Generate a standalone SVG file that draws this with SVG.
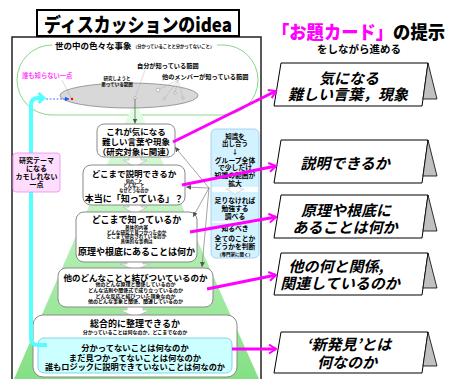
<svg xmlns="http://www.w3.org/2000/svg" width="449" height="379" viewBox="0 0 449 379">
<defs>
<style>
text{font-family:"Noto Sans CJK JP","Noto Sans CJK SC",sans-serif;font-weight:bold;fill:#000;dominant-baseline:central}
.c{text-anchor:middle}
.t{font-size:10px}
.box{fill:#fff;stroke:#8a8a8a;stroke-width:1}
.card{fill:#fff;stroke:#000;stroke-width:1}
.side{fill:#c0c0c0;stroke:#000;stroke-width:0.8}
.ct{font-size:15px;font-style:italic;text-anchor:middle}
.mag{stroke:#ff00ff;stroke-width:3;fill:none;marker-end:url(#mA)}
.gr{stroke:#666;stroke-width:0.6;fill:none;marker-end:url(#gA)}
.wa{fill:#fff;stroke:#bbb;stroke-width:0.8}
</style>
<linearGradient id="tri" x1="0" y1="100" x2="0" y2="379" gradientUnits="userSpaceOnUse">
<stop offset="0" stop-color="#e6ffe6"/>
<stop offset="1" stop-color="#84e084"/>
</linearGradient>
<marker id="mA" markerUnits="userSpaceOnUse" markerWidth="12" markerHeight="12" refX="10" refY="6" orient="auto">
<path d="M3,1.5 L10,6 L3,10.5" fill="none" stroke="#ff00ff" stroke-width="2"/>
</marker>
<marker id="gA" markerUnits="userSpaceOnUse" markerWidth="6" markerHeight="6" refX="5" refY="3" orient="auto">
<path d="M0,0.5 L5,3 L0,5.5 Z" fill="#555"/>
</marker>
<marker id="bA" markerUnits="userSpaceOnUse" markerWidth="6" markerHeight="6" refX="5" refY="3" orient="auto">
<path d="M0,0.5 L5,3 L0,5.5 Z" fill="#2255ff"/>
</marker>
</defs>

<!-- frame -->
<rect x="12" y="37" width="249" height="360" fill="#fff" stroke="#222" stroke-width="1.5"/>

<!-- title -->
<g id="title">
<rect x="37" y="10" width="202" height="26" fill="#fff" stroke="#000" stroke-width="2"/>
<text x="138" y="23.5" class="c" style="font-size:19px;font-weight:900" textLength="188" lengthAdjust="spacingAndGlyphs">ディスカッションのidea</text>
</g>

<!-- header right -->
<g id="header">
<text x="272" y="31" style="font-size:18.5px;font-weight:900" textLength="173" lengthAdjust="spacingAndGlyphs"><tspan style="fill:#ff00ff">「お題カード」</tspan>の提示</text>
<text x="359" y="48" class="c" style="font-size:10.5px">をしながら進める</text>
</g>

<!-- world of events -->
<g id="world">
<rect x="17" y="45" width="241" height="70" rx="35" ry="35" fill="none" stroke="#8ad88a" stroke-width="1"/>
<polygon points="135,100 14,379 259,379" fill="url(#tri)"/>
<rect x="52" y="40" width="165" height="10" fill="#fff"/>
<text x="55" y="45" style="font-size:8.5px">世の中の色々な事象</text>
<text transform="translate(133,46) scale(0.43)" class="t">（分かっていることと分かってないこと）</text>
<ellipse cx="129" cy="95.5" rx="69" ry="12.5" fill="#d8d8d8" stroke="#777" stroke-width="0.7"/>
<text x="22" y="75" style="font-size:6.3px;fill:#ff44ff">誰も知らない一点</text>
<line x1="62" y1="80" x2="71" y2="98" stroke="#999" stroke-width="0.4"/>
<circle cx="72" cy="99" r="1.2" fill="#ff0000"/>
<text transform="translate(117,78) scale(0.45)" class="t c">研究しようと</text>
<text transform="translate(117,83.5) scale(0.45)" class="t c">思っている範囲</text>
<text x="137" y="65" style="font-size:6.2px">自分が知っている範囲</text>
<text x="162" y="76" style="font-size:6.2px">他のメンバーが知っている範囲</text>
<g stroke="#aaa" stroke-width="0.4" fill="none">
<line x1="145" y1="70" x2="135" y2="98"/>
<line x1="178" y1="80" x2="158" y2="90"/>
<line x1="178" y1="80" x2="164" y2="99"/>
<line x1="178" y1="80" x2="175" y2="93"/>
<line x1="178" y1="80" x2="183" y2="98"/>
</g>
<g fill="#fff" stroke="#888" stroke-width="0.5">
<circle cx="135" cy="98" r="1.3"/>
<circle cx="158" cy="90" r="1.8"/>
<circle cx="164" cy="99" r="1.2"/>
<circle cx="175" cy="93" r="1.3"/>
<circle cx="183" cy="98" r="1.1"/>
</g>
</g>

<!-- white block arrows between steps -->
<g id="flow-arrows">
<polygon class="wa" points="129,155 141,155 141,160 147,160 135,167 123,160 129,160"/>
<polygon class="wa" points="129,203 141,203 141,207 147,207 135,214 123,207 129,207"/>
<polygon class="wa" points="127,260 143,260 143,264 150,264 135,270 120,264 127,264"/>
<polygon class="wa" points="127,305 143,305 143,310 150,310 135,317 120,310 127,310"/>
</g>

<!-- step boxes -->
<g id="step1">
<rect class="box" x="97" y="124" width="78" height="33" rx="7"/>
<text x="136" y="130.5" class="c" style="font-size:8.5px">これが気になる</text>
<text x="136" y="141" class="c" style="font-size:8.5px">難しい言葉や現象</text>
<text x="136" y="151" class="c" style="font-size:8.5px">（研究対象に関連）</text>
</g>
<g id="step2">
<rect class="box" x="83" y="165" width="102" height="40" rx="8"/>
<text x="134" y="172.5" class="c" style="font-size:8.5px">どこまで説明できるか</text>
<text transform="translate(134,180.5) scale(0.42)" class="t c">何のこと</text>
<text transform="translate(134,185) scale(0.42)" class="t c">どんなこと</text>
<text transform="translate(134,189.5) scale(0.42)" class="t c">なぜどうなのか</text>
<text x="134" y="198.5" class="c" style="font-size:9px">本当に「知っている」？</text>
</g>
<g id="step3">
<rect class="box" x="76" y="212" width="121" height="50" rx="8"/>
<text x="136.5" y="219" class="c" style="font-size:9px">どこまで知っているか</text>
<text transform="translate(136.5,227) scale(0.46)" class="t c">具体的内容</text>
<text transform="translate(136.5,231.7) scale(0.46)" class="t c">どんな研究で見つかったのか</text>
<text transform="translate(136.5,236.4) scale(0.46)" class="t c">どこまで研究されているのか</text>
<text transform="translate(136.5,241.1) scale(0.46)" class="t c">具体的な事例は</text>
<text x="136.5" y="251" class="c" style="font-size:9px">原理や根底にあることは何か</text>
</g>
<g id="step4">
<rect class="box" x="58" y="268" width="155" height="39" rx="8"/>
<text x="135.5" y="277" class="c" style="font-size:8.5px">他のどんなことと結びついているのか</text>
<text transform="translate(135.5,283.5) scale(0.5)" class="t c">他のどんな原理と関係しているのか</text>
<text transform="translate(135.5,289.3) scale(0.5)" class="t c">どんな法則や関係式で成り立っているのか</text>
<text transform="translate(135.5,295.1) scale(0.5)" class="t c">どんな反応と結びついた現象なのか</text>
<text transform="translate(135.5,300.9) scale(0.5)" class="t c">他のどんな事象と関係、関連しているのか</text>
</g>
<g id="step5">
<rect class="box" x="33" y="315" width="204" height="62" rx="10"/>
<text x="135" y="323" class="c" style="font-size:9px">総合的に整理できるか</text>
<text transform="translate(135,331) scale(0.5)" class="t c">分かっていることは何なのか、どこまでなのか</text>
</g>
<g id="unknown">
<rect x="38" y="338" width="194" height="35" rx="6" fill="#ccffff" stroke="#66ccdd" stroke-width="0.8"/>
<text x="135" y="347" class="c" style="font-size:8.3px">分かってないことは何なのか</text>
<text x="135" y="356.5" class="c" style="font-size:8.3px">まだ見つかってないことは何なのか</text>
<text x="135" y="366" class="c" style="font-size:8.2px">誰もロジックに説明できていないことは何なのか</text>
</g>

<!-- knowledge sharing column -->
<g id="knowledge">
<rect x="211" y="129" width="48" height="129" rx="5" fill="#d2f2ff" stroke="#99c8ee" stroke-width="0.8"/>
<rect x="212" y="187" width="46" height="5" fill="#fff"/>
<rect x="212" y="221" width="46" height="2" fill="#fff"/>
<polygon points="230,186 240,186 240,189 244,189 235,194 226,189 230,189" fill="#fff" stroke="#bbb" stroke-width="0.5"/>
<text x="235" y="136" class="c" style="font-size:6.5px">知識を</text>
<text x="235" y="143" class="c" style="font-size:6.5px">出し合う</text>
<text x="235" y="151" class="c" style="font-size:6.5px">↓</text>
<text x="235" y="159.5" class="c" style="font-size:6.8px">グループ全体</text>
<text x="235" y="167" class="c" style="font-size:6.8px">で少しだけ</text>
<text x="235" y="175" class="c" style="font-size:6.8px">知識の範囲が</text>
<text x="235" y="182.5" class="c" style="font-size:6.8px">拡大</text>
<text x="235" y="200" class="c" style="font-size:6.8px">足りなければ</text>
<text x="235" y="208" class="c" style="font-size:6.8px">勉強する</text>
<text x="235" y="216" class="c" style="font-size:6.8px">調べる</text>
<text x="235" y="228" class="c" style="font-size:6.8px">知るべき</text>
<text x="235" y="237.5" class="c" style="font-size:6.8px">全てのことか</text>
<text x="235" y="246" class="c" style="font-size:6.8px">どうかを判断</text>
<text transform="translate(235,254) scale(0.45)" class="t c">（専門家に聞く）</text>
</g>

<!-- cards -->
<g id="card1" transform="translate(0,63)">
<polygon class="card" points="281,0 428,0 422,43 274,43"/>
<polygon class="side" points="428,0 437,36 423,36"/>
<text x="349" y="14" class="ct">気になる</text>
<text x="348" y="30" class="ct">難しい言葉，現象</text>
</g>
<g id="card2" transform="translate(0,140)">
<polygon class="card" points="281,0 428,0 422,43 274,43"/>
<polygon class="side" points="428,0 437,36 423,36"/>
<text x="345" y="22" class="ct">説明できるか</text>
</g>
<g id="card3" transform="translate(0,195)">
<polygon class="card" points="281,0 428,0 422,43 274,43"/>
<polygon class="side" points="428,0 437,36 423,36"/>
<text x="346" y="14" class="ct">原理や根底に</text>
<text x="345" y="31" class="ct">あることは何か</text>
</g>
<g id="card4" transform="translate(0,253)">
<polygon class="card" points="281,0 428,0 422,42 274,42"/>
<polygon class="side" points="428,0 437,35 423,35"/>
<text x="336" y="12" class="ct">他の何と関係,</text>
<text x="340" y="29" class="ct">関連しているのか</text>
</g>
<g id="card5" transform="translate(0,332)">
<polygon class="card" points="281,0 428,0 422,41 274,41"/>
<polygon class="side" points="428,0 437,34 423,34"/>
<text x="349" y="11" class="ct">‘新発見’とは</text>
<text x="347" y="29" class="ct">何なのか</text>
</g>

<!-- connectors -->
<g id="connectors">
<line x1="135" y1="99" x2="135" y2="123.5" stroke="#555" stroke-width="0.7" marker-end="url(#gA)"/>
<line class="gr" x1="209" y1="188" x2="175" y2="147"/>
<line class="gr" x1="209" y1="188" x2="186" y2="187"/>
<line class="gr" x1="209" y1="188" x2="193" y2="217"/>
<line class="gr" x1="209" y1="188" x2="202" y2="267"/>
<path d="M47,345 L38,345 Q31,345 31,338 L31,105 Q31,98 38,98 L42,98" fill="none" stroke="#55ffff" stroke-width="4"/>
<path d="M38.5,93 L44,98 L38.5,103" fill="none" stroke="#55ffff" stroke-width="3"/>
<line x1="46" y1="99" x2="69.5" y2="99" stroke="#2255ff" stroke-width="0.8" stroke-dasharray="2,1.5" marker-end="url(#bA)"/>
<line class="mag" x1="173" y1="142" x2="276" y2="91"/>
<line class="mag" x1="182" y1="185" x2="276" y2="166"/>
<line class="mag" x1="190" y1="232" x2="276" y2="217"/>
<line class="mag" x1="207" y1="289" x2="276" y2="275"/>
<line class="mag" x1="232" y1="349" x2="276" y2="349"/>
</g>

<!-- pink note (drawn above the cyan line) -->
<g id="theme-note">
<rect x="13" y="153" width="47" height="39" rx="3" fill="#ffddff" stroke="#ee88ee" stroke-width="0.8"/>
<text x="36.5" y="160" class="c" style="font-size:7px">研究テーマ</text>
<text x="36.5" y="167.5" class="c" style="font-size:7px">になる</text>
<text x="36.5" y="176" class="c" style="font-size:7px">カモしれない</text>
<text x="36.5" y="184" class="c" style="font-size:7px">一点</text>
</g>
</svg>
